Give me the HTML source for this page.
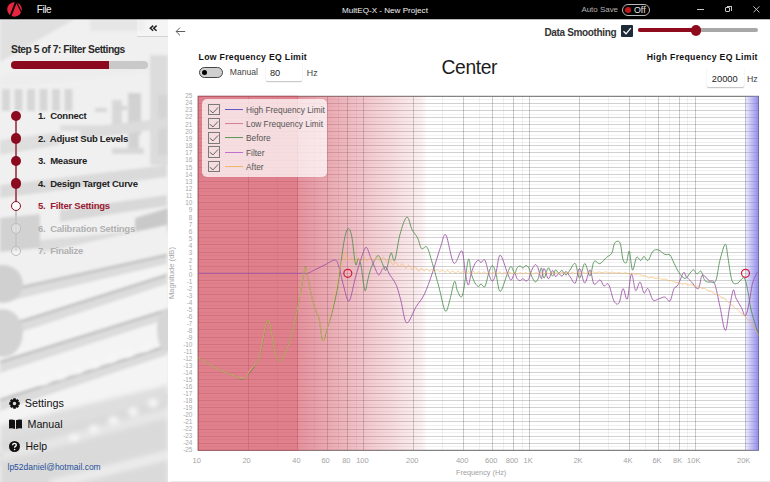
<!DOCTYPE html>
<html><head><meta charset="utf-8">
<style>
*{box-sizing:border-box;margin:0;padding:0}
html,body{width:770px;height:482px;overflow:hidden;background:#fff;font-family:"Liberation Sans",sans-serif;position:relative}
.a{position:absolute;white-space:nowrap;line-height:1}
#title{left:0;top:0;width:770px;height:19.3px;background:#000}
#side{left:0;top:19px;width:167.7px;height:463px;background:#e9e9e9;overflow:hidden}
.b{font-weight:bold}
.step{font-size:9.5px;font-weight:bold;letter-spacing:-0.25px;color:#222}
.dot{position:absolute;width:10.6px;height:10.6px;border-radius:50%;margin-left:0px}
.yl{position:absolute;left:170px;width:22.4px;text-align:right;font-size:6.4px;line-height:8px;color:#a8a8a8;margin-top:1px}
.xl{position:absolute;top:456.5px;width:40px;text-align:center;font-size:7.5px;line-height:8px;color:#a4a4a4}
</style></head><body>
<div class="a" id="title"></div>
<!-- logo -->
<svg class="a" style="left:6px;top:2px" width="17" height="16" viewBox="0 0 17 16">
<circle cx="8.5" cy="7.45" r="7.3" fill="#e8253f"/>
<path d="M10.2 -0.6 L4.3 14.6" stroke="#000" stroke-width="1.9"/>
<path d="M10.4 0 L15.6 10.6" stroke="#000" stroke-width="1.2"/>
</svg>
<div class="a" style="left:36.8px;top:5.4px;font-size:10px;letter-spacing:-0.45px;color:#f4f4f4">File</div>
<div class="a" style="left:342px;top:6.7px;font-size:8.1px;color:#f4f4f4">MultEQ-X - New Project</div>
<div class="a" style="left:581.4px;top:6.3px;font-size:7.95px;color:#b4b4b4">Auto Save</div>
<div class="a" style="left:621.8px;top:3.6px;width:28px;height:12.2px;border:1px solid #b8b8b8;border-radius:6.5px"></div>
<div class="a" style="left:625.2px;top:6.9px;width:6px;height:6px;border-radius:50%;background:#c8141e"></div>
<div class="a" style="left:634px;top:6px;font-size:8.8px;color:#e4e4e4">Off</div>
<div class="a" style="left:697px;top:9px;width:7px;height:1px;background:#c8c8c8"></div>
<div class="a" style="left:725px;top:7.2px;width:5px;height:5px;border:1px solid #c8c8c8;border-radius:1px"></div>
<div class="a" style="left:726.5px;top:5.7px;width:5px;height:5px;border-top:1px solid #c8c8c8;border-right:1px solid #c8c8c8"></div>
<svg class="a" style="left:752.8px;top:6.2px" width="7" height="7"><path d="M0.4 0.4L6.4 6.4M6.4 0.4L0.4 6.4" stroke="#d0d0d0" stroke-width="0.9"/></svg>

<!-- sidebar -->
<div class="a" id="side"><svg width="168" height="463" style="position:absolute;left:0;top:0"><defs><filter id="sb" x="-5%" y="-5%" width="110%" height="110%"><feGaussianBlur stdDeviation="1.7"/></filter><filter id="sb2" x="-10%" y="-10%" width="120%" height="120%"><feGaussianBlur stdDeviation="2.6"/></filter></defs><g filter="url(#sb)"><rect x="-10" y="-10" width="190" height="500" fill="#f0f0f0"/><polygon points="0,0 75,0 0,43" fill="#e0e0e0"/><rect x="90" y="0" width="55" height="12" fill="#e6e6e6"/><polygon points="0,56 167,39 167,51 0,69" fill="#ededed"/><rect x="150" y="36" width="18" height="110" fill="#dcdcdc"/><rect x="128" y="74" width="13" height="42" fill="#d0d0d0"/><rect x="112" y="81" width="10" height="35" fill="#d8d8d8"/><rect x="2.0" y="70" width="8" height="22" fill="#d6d6d6"/><rect x="14.5" y="70" width="8" height="22" fill="#d6d6d6"/><rect x="27.0" y="70" width="8" height="22" fill="#d6d6d6"/><rect x="39.5" y="70" width="8" height="22" fill="#d6d6d6"/><rect x="52.0" y="70" width="8" height="22" fill="#d6d6d6"/><rect x="64.5" y="70" width="8" height="22" fill="#d6d6d6"/><rect x="128" y="79" width="11" height="56" fill="#d2d2d2"/><rect x="158" y="76" width="10" height="60" fill="#d4d4d4"/><rect x="95" y="89" width="12" height="4" fill="#d6d6d6"/><rect x="115" y="87" width="12" height="4" fill="#d6d6d6"/><rect x="60" y="106" width="70" height="6" fill="#dedede"/><rect x="112" y="129" width="32" height="6" fill="#d8d8d8"/><rect x="122" y="151" width="42" height="5" fill="#dadada"/><polygon points="80,109 167,99 167,109 80,121" fill="#dcdcdc"/><polygon points="0,121 60,113 60,126 0,136" fill="#dedede"/><polygon points="0,166 167,146 167,158 0,179" fill="#dadada"/><polygon points="0,199 40,195 40,229 0,233" fill="#d2d2d2"/><polygon points="60,191 167,176 167,187 60,203" fill="#d8d8d8"/><polygon points="135,199 168,189 168,213 135,221" fill="#c9c9c9"/><polygon points="40,221 167,209 167,219 40,233" fill="#dcdcdc"/><polygon points="0,243 167,206 167,236 0,273" fill="#f0f0f0"/><polygon points="0,273 167,236 167,256 0,309" fill="#f4f4f4"/><polygon points="0,273 167,236 167,245 0,284" fill="#dcdcdc"/><line x1="0" y1="273" x2="167" y2="236" stroke="#bebebe" stroke-width="2.4"/><polygon points="0,309 167,256 167,291 0,343" fill="#f4f4f4"/><polygon points="0,309 167,256 167,265 0,320" fill="#dcdcdc"/><line x1="0" y1="309" x2="167" y2="256" stroke="#bebebe" stroke-width="2.4"/><polygon points="0,343 167,291 167,327 0,381" fill="#f4f4f4"/><polygon points="0,343 167,291 167,300 0,354" fill="#dcdcdc"/><line x1="0" y1="343" x2="167" y2="291" stroke="#bebebe" stroke-width="2.4"/><polygon points="0,381 167,327 167,376 0,436" fill="#f4f4f4"/><polygon points="0,381 167,327 167,336 0,392" fill="#dcdcdc"/><line x1="0" y1="381" x2="167" y2="327" stroke="#bebebe" stroke-width="2.4"/><polygon points="0,436 167,376 167,426 0,486" fill="#f4f4f4"/><polygon points="0,436 167,376 167,385 0,447" fill="#dcdcdc"/><line x1="0" y1="436" x2="167" y2="376" stroke="#bebebe" stroke-width="2.4"/><ellipse cx="3" cy="265" rx="20" ry="19" fill="#d0d0d0"/><ellipse cx="3" cy="314" rx="20" ry="24" fill="#d3d3d3"/><ellipse cx="167" cy="311" rx="10" ry="22" fill="#d6d6d6"/></g><g filter="url(#sb2)"><polygon points="0,421 168,381 168,481 0,481" fill="#dadada"/><polygon points="0,406 168,366 168,381 0,421" fill="#dedede"/><polygon points="0,433 168,389 168,399 0,443" fill="#e6e6e6"/><polygon points="50,461 168,431 168,441 50,471" fill="#ebebeb"/><ellipse cx="44.0" cy="362.0" rx="5" ry="4.2" fill="#f6f6f6"/><ellipse cx="60.8" cy="356.3" rx="5" ry="4.2" fill="#f6f6f6"/><ellipse cx="77.7" cy="350.7" rx="5" ry="4.2" fill="#f6f6f6"/><ellipse cx="94.5" cy="345.0" rx="5" ry="4.2" fill="#f6f6f6"/><ellipse cx="111.3" cy="339.3" rx="5" ry="4.2" fill="#f6f6f6"/><ellipse cx="128.2" cy="333.7" rx="5" ry="4.2" fill="#f6f6f6"/><ellipse cx="145.0" cy="328.0" rx="5" ry="4.2" fill="#f6f6f6"/><ellipse cx="74.0" cy="419.0" rx="5" ry="4.2" fill="#f6f6f6"/><ellipse cx="93.8" cy="410.2" rx="5" ry="4.2" fill="#f6f6f6"/><ellipse cx="113.5" cy="401.5" rx="5" ry="4.2" fill="#f6f6f6"/><ellipse cx="133.2" cy="392.8" rx="5" ry="4.2" fill="#f6f6f6"/><ellipse cx="153.0" cy="384.0" rx="5" ry="4.2" fill="#f6f6f6"/></g></svg></div>
</div>
<div class="a" style="left:137px;top:19px;width:30.7px;height:18px;border-bottom:1px solid #d4d4d4;background:rgba(255,255,255,0.35)"></div>
<svg class="a" style="left:148.8px;top:24.5px" width="9" height="7" viewBox="0 0 9 7"><path d="M4.2 0.6L1.3 3.2l2.9 2.6M7.6 0.6L4.7 3.2l2.9 2.6" stroke="#222" stroke-width="1.5" fill="none"/></svg>
<div class="a b" style="left:11px;top:45px;font-size:10.3px;letter-spacing:-0.47px;color:#2a2a2a">Step 5 of 7: Filter Settings</div>
<div class="a" style="left:11px;top:60.5px;width:137px;height:8px;border-radius:4px;background:#c9c9c9"></div>
<div class="a" style="left:11px;top:60.5px;width:98px;height:8px;border-radius:4px 0 0 4px;background:#8c0a1f"></div>

<!-- steps -->
<div class="a" style="left:15.3px;top:116px;width:1.6px;height:90px;background:#a85566"></div>
<div class="a" style="left:15.3px;top:206px;width:1.6px;height:45px;background:#c8c8c8"></div>
<div class="dot" style="left:10.5px;top:110.5px;background:#8c0a1f"></div>
<div class="dot" style="left:10.5px;top:133px;background:#8c0a1f"></div>
<div class="dot" style="left:10.5px;top:155.5px;background:#8c0a1f"></div>
<div class="dot" style="left:10.5px;top:178px;background:#8c0a1f"></div>
<div class="dot" style="left:10.5px;top:200.5px;background:#fff;border:1.5px solid #8c0a1f"></div>
<div class="dot" style="left:10.5px;top:223px;background:rgba(255,255,255,0.3);border:1.4px solid #bdbdbd"></div>
<div class="dot" style="left:10.5px;top:245.5px;background:rgba(255,255,255,0.3);border:1.4px solid #bdbdbd"></div>
<div class="a step" style="left:38px;top:111.0px">1.&nbsp; Connect</div>
<div class="a step" style="left:38px;top:133.5px">2.&nbsp; Adjust Sub Levels</div>
<div class="a step" style="left:38px;top:156.0px">3.&nbsp; Measure</div>
<div class="a step" style="left:38px;top:178.5px">4.&nbsp; Design Target Curve</div>
<div class="a step" style="left:38px;top:201.0px;color:#9a1a30">5.&nbsp; Filter Settings</div>
<div class="a step" style="left:38px;top:223.5px;color:#b0b0b0">6.&nbsp; Calibration Settings</div>
<div class="a step" style="left:38px;top:246.0px;color:#b0b0b0">7.&nbsp; Finalize</div>

<!-- bottom links -->
<svg class="a" style="left:8.8px;top:397.5px" width="11" height="11" viewBox="0 0 11 11">
<path fill="#111" fill-rule="evenodd" d="M10.76 4.27 L10.76 6.73 L9.09 7.02 L9.11 6.97 L10.09 8.35 L8.35 10.09 L6.97 9.11 L7.02 9.09 L6.73 10.76 L4.27 10.76 L3.98 9.09 L4.03 9.11 L2.65 10.09 L0.91 8.35 L1.89 6.97 L1.91 7.02 L0.24 6.73 L0.24 4.27 L1.91 3.98 L1.89 4.03 L0.91 2.65 L2.65 0.91 L4.03 1.89 L3.98 1.91 L4.27 0.24 L6.73 0.24 L7.02 1.91 L6.97 1.89 L8.35 0.91 L10.09 2.65 L9.11 4.03 L9.09 3.98Z M5.5 3.7 A1.8 1.8 0 1 0 5.5 7.3 A1.8 1.8 0 1 0 5.5 3.7Z"/>
</svg>
<div class="a" style="left:24.8px;top:398px;font-size:10.8px;color:#111">Settings</div>
<svg class="a" style="left:9px;top:419px" width="13" height="10" viewBox="0 0 13 10">
<path fill="#111" d="M0 0.8 Q3 0 6 1.2 V10 Q3 8.8 0 9.6Z M7 1.2 Q10 0 13 0.8 V9.6 Q10 8.8 7 10Z"/>
</svg>
<div class="a" style="left:27.5px;top:419.3px;font-size:10.7px;color:#111">Manual</div>
<svg class="a" style="left:9px;top:440.5px" width="11" height="11" viewBox="0 0 11 11">
<circle cx="5.5" cy="5.5" r="5.5" fill="#111"/>
<path d="M3.7 4.2 Q3.7 2.4 5.5 2.4 Q7.3 2.4 7.3 4 Q7.3 5 6.1 5.6 Q5.6 5.9 5.6 6.8" stroke="#fff" stroke-width="1.4" fill="none"/>
<circle cx="5.6" cy="8.5" r="0.8" fill="#fff"/>
</svg>
<div class="a" style="left:25.5px;top:441px;font-size:10.5px;color:#111">Help</div>
<div class="a" style="left:7.5px;top:463px;font-size:8.5px;color:#26509a">lp52daniel@hotmail.com</div>

<!-- main header -->

<svg class="a" style="left:175px;top:26px" width="12" height="10" viewBox="0 0 12 10">
<path d="M10.2 5.5H1.2M5 1.6L1.1 5.5 5 9.4" stroke="#555" stroke-width="0.95" fill="none"/>
</svg>
<div class="a b" style="left:544.5px;top:27.6px;font-size:10px;letter-spacing:-0.35px;color:#333">Data Smoothing</div>
<div class="a" style="left:621px;top:25px;width:12px;height:12px;background:#1f2a38;border-radius:1px"></div>
<svg class="a" style="left:621px;top:25px" width="12" height="12"><path d="M2.5 6.3L5 8.8 9.8 3.2" stroke="#fff" stroke-width="1.3" fill="none"/></svg>
<div class="a" style="left:638px;top:28px;width:120px;height:4px;border-radius:2px;background:#a8a8a8"></div>
<div class="a" style="left:638px;top:28px;width:58px;height:4px;border-radius:2px 0 0 2px;background:#8e0a1d"></div>
<div class="a" style="left:690.5px;top:25px;width:10.5px;height:10.5px;border-radius:50%;background:#8e0a1d"></div>

<div class="a b" style="left:198.6px;top:52.9px;font-size:8.7px;letter-spacing:0.3px;color:#111">Low Frequency EQ Limit</div>
<div class="a" style="left:198.5px;top:66.5px;width:24.5px;height:11px;border-radius:6px;background:#cfcfcf;border:1px solid #444"></div>
<div class="a" style="left:202px;top:69.5px;width:5px;height:5px;border-radius:50%;background:#000"></div>
<div class="a" style="left:229.8px;top:68.3px;font-size:8.6px;color:#444">Manual</div>
<div class="a" style="left:265.5px;top:62.7px;width:36.3px;height:18.2px;background:#fff;box-shadow:0 1px 1.2px rgba(0,0,0,0.25),0 0 0.5px rgba(0,0,0,0.1);border-radius:1.5px"></div>
<div class="a" style="left:270px;top:68.6px;font-size:9.2px;color:#222">80</div>
<div class="a" style="left:306.8px;top:68.9px;font-size:8.8px;color:#444">Hz</div>

<div class="a" style="left:441.6px;top:57.8px;font-size:19.3px;letter-spacing:-0.4px;color:#1c1c1c">Center</div>

<div class="a b" style="left:646.7px;top:52.9px;font-size:8.7px;letter-spacing:0.32px;color:#111">High Frequency EQ Limit</div>
<div class="a" style="left:707.2px;top:68.4px;width:36.7px;height:18.6px;background:#fff;box-shadow:0 1px 1.2px rgba(0,0,0,0.25),0 0 0.5px rgba(0,0,0,0.1);border-radius:1.5px"></div>
<div class="a" style="left:711.8px;top:74.5px;font-size:9.3px;color:#222">20000</div>
<div class="a" style="left:747px;top:74.9px;font-size:8.8px;color:#444">Hz</div>

<!-- chart -->
<svg class="a" style="left:0;top:0" width="770" height="482" viewBox="0 0 770 482">
<defs>
<linearGradient id="pg" x1="0" x2="1" y1="0" y2="0">
<stop offset="0" stop-color="#d14456" stop-opacity="0.58"/>
<stop offset="0.47" stop-color="#d14456" stop-opacity="0.33"/>
<stop offset="0.96" stop-color="#d14456" stop-opacity="0.08"/>
<stop offset="1" stop-color="#d14456" stop-opacity="0.02"/>
</linearGradient>
<linearGradient id="bg" x1="0" x2="1" y1="0" y2="0">
<stop offset="0" stop-color="#8078ea" stop-opacity="0.12"/>
<stop offset="1" stop-color="#8078ea" stop-opacity="0.85"/>
</linearGradient>
</defs>
<rect x="198.2" y="96.3" width="560.3" height="354.0" fill="#fff"/>
<line x1="198.2" x2="758.5" y1="99.50" y2="99.50" stroke="#000" stroke-opacity="0.055" stroke-width="1"/>
<line x1="198.2" x2="758.5" y1="103.50" y2="103.50" stroke="#000" stroke-opacity="0.18" stroke-width="1"/>
<line x1="198.2" x2="758.5" y1="106.50" y2="106.50" stroke="#000" stroke-opacity="0.055" stroke-width="1"/>
<line x1="198.2" x2="758.5" y1="110.50" y2="110.50" stroke="#000" stroke-opacity="0.18" stroke-width="1"/>
<line x1="198.2" x2="758.5" y1="114.50" y2="114.50" stroke="#000" stroke-opacity="0.055" stroke-width="1"/>
<line x1="198.2" x2="758.5" y1="117.50" y2="117.50" stroke="#000" stroke-opacity="0.18" stroke-width="1"/>
<line x1="198.2" x2="758.5" y1="121.50" y2="121.50" stroke="#000" stroke-opacity="0.055" stroke-width="1"/>
<line x1="198.2" x2="758.5" y1="124.50" y2="124.50" stroke="#000" stroke-opacity="0.18" stroke-width="1"/>
<line x1="198.2" x2="758.5" y1="128.50" y2="128.50" stroke="#000" stroke-opacity="0.055" stroke-width="1"/>
<line x1="198.2" x2="758.5" y1="131.50" y2="131.50" stroke="#000" stroke-opacity="0.18" stroke-width="1"/>
<line x1="198.2" x2="758.5" y1="135.50" y2="135.50" stroke="#000" stroke-opacity="0.055" stroke-width="1"/>
<line x1="198.2" x2="758.5" y1="138.50" y2="138.50" stroke="#000" stroke-opacity="0.18" stroke-width="1"/>
<line x1="198.2" x2="758.5" y1="142.50" y2="142.50" stroke="#000" stroke-opacity="0.055" stroke-width="1"/>
<line x1="198.2" x2="758.5" y1="145.50" y2="145.50" stroke="#000" stroke-opacity="0.18" stroke-width="1"/>
<line x1="198.2" x2="758.5" y1="149.50" y2="149.50" stroke="#000" stroke-opacity="0.055" stroke-width="1"/>
<line x1="198.2" x2="758.5" y1="152.50" y2="152.50" stroke="#000" stroke-opacity="0.18" stroke-width="1"/>
<line x1="198.2" x2="758.5" y1="156.50" y2="156.50" stroke="#000" stroke-opacity="0.055" stroke-width="1"/>
<line x1="198.2" x2="758.5" y1="160.50" y2="160.50" stroke="#000" stroke-opacity="0.18" stroke-width="1"/>
<line x1="198.2" x2="758.5" y1="163.50" y2="163.50" stroke="#000" stroke-opacity="0.055" stroke-width="1"/>
<line x1="198.2" x2="758.5" y1="167.50" y2="167.50" stroke="#000" stroke-opacity="0.18" stroke-width="1"/>
<line x1="198.2" x2="758.5" y1="170.50" y2="170.50" stroke="#000" stroke-opacity="0.055" stroke-width="1"/>
<line x1="198.2" x2="758.5" y1="174.50" y2="174.50" stroke="#000" stroke-opacity="0.18" stroke-width="1"/>
<line x1="198.2" x2="758.5" y1="177.50" y2="177.50" stroke="#000" stroke-opacity="0.055" stroke-width="1"/>
<line x1="198.2" x2="758.5" y1="181.50" y2="181.50" stroke="#000" stroke-opacity="0.18" stroke-width="1"/>
<line x1="198.2" x2="758.5" y1="184.50" y2="184.50" stroke="#000" stroke-opacity="0.055" stroke-width="1"/>
<line x1="198.2" x2="758.5" y1="188.50" y2="188.50" stroke="#000" stroke-opacity="0.18" stroke-width="1"/>
<line x1="198.2" x2="758.5" y1="191.50" y2="191.50" stroke="#000" stroke-opacity="0.055" stroke-width="1"/>
<line x1="198.2" x2="758.5" y1="195.50" y2="195.50" stroke="#000" stroke-opacity="0.18" stroke-width="1"/>
<line x1="198.2" x2="758.5" y1="198.50" y2="198.50" stroke="#000" stroke-opacity="0.055" stroke-width="1"/>
<line x1="198.2" x2="758.5" y1="202.50" y2="202.50" stroke="#000" stroke-opacity="0.18" stroke-width="1"/>
<line x1="198.2" x2="758.5" y1="206.50" y2="206.50" stroke="#000" stroke-opacity="0.055" stroke-width="1"/>
<line x1="198.2" x2="758.5" y1="209.50" y2="209.50" stroke="#000" stroke-opacity="0.18" stroke-width="1"/>
<line x1="198.2" x2="758.5" y1="213.50" y2="213.50" stroke="#000" stroke-opacity="0.055" stroke-width="1"/>
<line x1="198.2" x2="758.5" y1="216.50" y2="216.50" stroke="#000" stroke-opacity="0.18" stroke-width="1"/>
<line x1="198.2" x2="758.5" y1="220.50" y2="220.50" stroke="#000" stroke-opacity="0.055" stroke-width="1"/>
<line x1="198.2" x2="758.5" y1="223.50" y2="223.50" stroke="#000" stroke-opacity="0.18" stroke-width="1"/>
<line x1="198.2" x2="758.5" y1="227.50" y2="227.50" stroke="#000" stroke-opacity="0.055" stroke-width="1"/>
<line x1="198.2" x2="758.5" y1="230.50" y2="230.50" stroke="#000" stroke-opacity="0.18" stroke-width="1"/>
<line x1="198.2" x2="758.5" y1="234.50" y2="234.50" stroke="#000" stroke-opacity="0.055" stroke-width="1"/>
<line x1="198.2" x2="758.5" y1="237.50" y2="237.50" stroke="#000" stroke-opacity="0.18" stroke-width="1"/>
<line x1="198.2" x2="758.5" y1="241.50" y2="241.50" stroke="#000" stroke-opacity="0.055" stroke-width="1"/>
<line x1="198.2" x2="758.5" y1="244.50" y2="244.50" stroke="#000" stroke-opacity="0.18" stroke-width="1"/>
<line x1="198.2" x2="758.5" y1="248.50" y2="248.50" stroke="#000" stroke-opacity="0.055" stroke-width="1"/>
<line x1="198.2" x2="758.5" y1="252.50" y2="252.50" stroke="#000" stroke-opacity="0.18" stroke-width="1"/>
<line x1="198.2" x2="758.5" y1="255.50" y2="255.50" stroke="#000" stroke-opacity="0.055" stroke-width="1"/>
<line x1="198.2" x2="758.5" y1="259.50" y2="259.50" stroke="#000" stroke-opacity="0.18" stroke-width="1"/>
<line x1="198.2" x2="758.5" y1="262.50" y2="262.50" stroke="#000" stroke-opacity="0.055" stroke-width="1"/>
<line x1="198.2" x2="758.5" y1="266.50" y2="266.50" stroke="#000" stroke-opacity="0.18" stroke-width="1"/>
<line x1="198.2" x2="758.5" y1="269.50" y2="269.50" stroke="#000" stroke-opacity="0.055" stroke-width="1"/>
<line x1="198.2" x2="758.5" y1="273.50" y2="273.50" stroke="#000" stroke-opacity="0.18" stroke-width="1"/>
<line x1="198.2" x2="758.5" y1="276.50" y2="276.50" stroke="#000" stroke-opacity="0.055" stroke-width="1"/>
<line x1="198.2" x2="758.5" y1="280.50" y2="280.50" stroke="#000" stroke-opacity="0.18" stroke-width="1"/>
<line x1="198.2" x2="758.5" y1="283.50" y2="283.50" stroke="#000" stroke-opacity="0.055" stroke-width="1"/>
<line x1="198.2" x2="758.5" y1="287.50" y2="287.50" stroke="#000" stroke-opacity="0.18" stroke-width="1"/>
<line x1="198.2" x2="758.5" y1="291.50" y2="291.50" stroke="#000" stroke-opacity="0.055" stroke-width="1"/>
<line x1="198.2" x2="758.5" y1="294.50" y2="294.50" stroke="#000" stroke-opacity="0.18" stroke-width="1"/>
<line x1="198.2" x2="758.5" y1="298.50" y2="298.50" stroke="#000" stroke-opacity="0.055" stroke-width="1"/>
<line x1="198.2" x2="758.5" y1="301.50" y2="301.50" stroke="#000" stroke-opacity="0.18" stroke-width="1"/>
<line x1="198.2" x2="758.5" y1="305.50" y2="305.50" stroke="#000" stroke-opacity="0.055" stroke-width="1"/>
<line x1="198.2" x2="758.5" y1="308.50" y2="308.50" stroke="#000" stroke-opacity="0.18" stroke-width="1"/>
<line x1="198.2" x2="758.5" y1="312.50" y2="312.50" stroke="#000" stroke-opacity="0.055" stroke-width="1"/>
<line x1="198.2" x2="758.5" y1="315.50" y2="315.50" stroke="#000" stroke-opacity="0.18" stroke-width="1"/>
<line x1="198.2" x2="758.5" y1="319.50" y2="319.50" stroke="#000" stroke-opacity="0.055" stroke-width="1"/>
<line x1="198.2" x2="758.5" y1="322.50" y2="322.50" stroke="#000" stroke-opacity="0.18" stroke-width="1"/>
<line x1="198.2" x2="758.5" y1="326.50" y2="326.50" stroke="#000" stroke-opacity="0.055" stroke-width="1"/>
<line x1="198.2" x2="758.5" y1="329.50" y2="329.50" stroke="#000" stroke-opacity="0.18" stroke-width="1"/>
<line x1="198.2" x2="758.5" y1="333.50" y2="333.50" stroke="#000" stroke-opacity="0.055" stroke-width="1"/>
<line x1="198.2" x2="758.5" y1="337.50" y2="337.50" stroke="#000" stroke-opacity="0.18" stroke-width="1"/>
<line x1="198.2" x2="758.5" y1="340.50" y2="340.50" stroke="#000" stroke-opacity="0.055" stroke-width="1"/>
<line x1="198.2" x2="758.5" y1="344.50" y2="344.50" stroke="#000" stroke-opacity="0.18" stroke-width="1"/>
<line x1="198.2" x2="758.5" y1="347.50" y2="347.50" stroke="#000" stroke-opacity="0.055" stroke-width="1"/>
<line x1="198.2" x2="758.5" y1="351.50" y2="351.50" stroke="#000" stroke-opacity="0.18" stroke-width="1"/>
<line x1="198.2" x2="758.5" y1="354.50" y2="354.50" stroke="#000" stroke-opacity="0.055" stroke-width="1"/>
<line x1="198.2" x2="758.5" y1="358.50" y2="358.50" stroke="#000" stroke-opacity="0.18" stroke-width="1"/>
<line x1="198.2" x2="758.5" y1="361.50" y2="361.50" stroke="#000" stroke-opacity="0.055" stroke-width="1"/>
<line x1="198.2" x2="758.5" y1="365.50" y2="365.50" stroke="#000" stroke-opacity="0.18" stroke-width="1"/>
<line x1="198.2" x2="758.5" y1="368.50" y2="368.50" stroke="#000" stroke-opacity="0.055" stroke-width="1"/>
<line x1="198.2" x2="758.5" y1="372.50" y2="372.50" stroke="#000" stroke-opacity="0.18" stroke-width="1"/>
<line x1="198.2" x2="758.5" y1="375.50" y2="375.50" stroke="#000" stroke-opacity="0.055" stroke-width="1"/>
<line x1="198.2" x2="758.5" y1="379.50" y2="379.50" stroke="#000" stroke-opacity="0.18" stroke-width="1"/>
<line x1="198.2" x2="758.5" y1="383.50" y2="383.50" stroke="#000" stroke-opacity="0.055" stroke-width="1"/>
<line x1="198.2" x2="758.5" y1="386.50" y2="386.50" stroke="#000" stroke-opacity="0.18" stroke-width="1"/>
<line x1="198.2" x2="758.5" y1="390.50" y2="390.50" stroke="#000" stroke-opacity="0.055" stroke-width="1"/>
<line x1="198.2" x2="758.5" y1="393.50" y2="393.50" stroke="#000" stroke-opacity="0.18" stroke-width="1"/>
<line x1="198.2" x2="758.5" y1="397.50" y2="397.50" stroke="#000" stroke-opacity="0.055" stroke-width="1"/>
<line x1="198.2" x2="758.5" y1="400.50" y2="400.50" stroke="#000" stroke-opacity="0.18" stroke-width="1"/>
<line x1="198.2" x2="758.5" y1="404.50" y2="404.50" stroke="#000" stroke-opacity="0.055" stroke-width="1"/>
<line x1="198.2" x2="758.5" y1="407.50" y2="407.50" stroke="#000" stroke-opacity="0.18" stroke-width="1"/>
<line x1="198.2" x2="758.5" y1="411.50" y2="411.50" stroke="#000" stroke-opacity="0.055" stroke-width="1"/>
<line x1="198.2" x2="758.5" y1="414.50" y2="414.50" stroke="#000" stroke-opacity="0.18" stroke-width="1"/>
<line x1="198.2" x2="758.5" y1="418.50" y2="418.50" stroke="#000" stroke-opacity="0.055" stroke-width="1"/>
<line x1="198.2" x2="758.5" y1="421.50" y2="421.50" stroke="#000" stroke-opacity="0.18" stroke-width="1"/>
<line x1="198.2" x2="758.5" y1="425.50" y2="425.50" stroke="#000" stroke-opacity="0.055" stroke-width="1"/>
<line x1="198.2" x2="758.5" y1="429.50" y2="429.50" stroke="#000" stroke-opacity="0.18" stroke-width="1"/>
<line x1="198.2" x2="758.5" y1="432.50" y2="432.50" stroke="#000" stroke-opacity="0.055" stroke-width="1"/>
<line x1="198.2" x2="758.5" y1="436.50" y2="436.50" stroke="#000" stroke-opacity="0.18" stroke-width="1"/>
<line x1="198.2" x2="758.5" y1="439.50" y2="439.50" stroke="#000" stroke-opacity="0.055" stroke-width="1"/>
<line x1="198.2" x2="758.5" y1="443.50" y2="443.50" stroke="#000" stroke-opacity="0.18" stroke-width="1"/>
<line x1="198.2" x2="758.5" y1="446.50" y2="446.50" stroke="#000" stroke-opacity="0.055" stroke-width="1"/>
<line x1="248.50" x2="248.50" y1="96.3" y2="450.3" stroke="#000" stroke-opacity="0.2" stroke-width="1"/>
<line x1="277.50" x2="277.50" y1="96.3" y2="450.3" stroke="#000" stroke-opacity="0.055" stroke-width="1"/>
<line x1="297.50" x2="297.50" y1="96.3" y2="450.3" stroke="#000" stroke-opacity="0.2" stroke-width="1"/>
<line x1="314.50" x2="314.50" y1="96.3" y2="450.3" stroke="#000" stroke-opacity="0.055" stroke-width="1"/>
<line x1="327.50" x2="327.50" y1="96.3" y2="450.3" stroke="#000" stroke-opacity="0.2" stroke-width="1"/>
<line x1="338.50" x2="338.50" y1="96.3" y2="450.3" stroke="#000" stroke-opacity="0.055" stroke-width="1"/>
<line x1="347.50" x2="347.50" y1="96.3" y2="450.3" stroke="#000" stroke-opacity="0.2" stroke-width="1"/>
<line x1="356.50" x2="356.50" y1="96.3" y2="450.3" stroke="#000" stroke-opacity="0.055" stroke-width="1"/>
<line x1="363.50" x2="363.50" y1="96.3" y2="450.3" stroke="#000" stroke-opacity="0.2" stroke-width="1"/>
<line x1="413.50" x2="413.50" y1="96.3" y2="450.3" stroke="#000" stroke-opacity="0.2" stroke-width="1"/>
<line x1="442.50" x2="442.50" y1="96.3" y2="450.3" stroke="#000" stroke-opacity="0.055" stroke-width="1"/>
<line x1="463.50" x2="463.50" y1="96.3" y2="450.3" stroke="#000" stroke-opacity="0.2" stroke-width="1"/>
<line x1="479.50" x2="479.50" y1="96.3" y2="450.3" stroke="#000" stroke-opacity="0.055" stroke-width="1"/>
<line x1="492.50" x2="492.50" y1="96.3" y2="450.3" stroke="#000" stroke-opacity="0.2" stroke-width="1"/>
<line x1="503.50" x2="503.50" y1="96.3" y2="450.3" stroke="#000" stroke-opacity="0.055" stroke-width="1"/>
<line x1="513.50" x2="513.50" y1="96.3" y2="450.3" stroke="#000" stroke-opacity="0.2" stroke-width="1"/>
<line x1="522.50" x2="522.50" y1="96.3" y2="450.3" stroke="#000" stroke-opacity="0.055" stroke-width="1"/>
<line x1="529.50" x2="529.50" y1="96.3" y2="450.3" stroke="#000" stroke-opacity="0.2" stroke-width="1"/>
<line x1="579.50" x2="579.50" y1="96.3" y2="450.3" stroke="#000" stroke-opacity="0.2" stroke-width="1"/>
<line x1="608.50" x2="608.50" y1="96.3" y2="450.3" stroke="#000" stroke-opacity="0.055" stroke-width="1"/>
<line x1="629.50" x2="629.50" y1="96.3" y2="450.3" stroke="#000" stroke-opacity="0.2" stroke-width="1"/>
<line x1="645.50" x2="645.50" y1="96.3" y2="450.3" stroke="#000" stroke-opacity="0.055" stroke-width="1"/>
<line x1="658.50" x2="658.50" y1="96.3" y2="450.3" stroke="#000" stroke-opacity="0.2" stroke-width="1"/>
<line x1="669.50" x2="669.50" y1="96.3" y2="450.3" stroke="#000" stroke-opacity="0.055" stroke-width="1"/>
<line x1="679.50" x2="679.50" y1="96.3" y2="450.3" stroke="#000" stroke-opacity="0.2" stroke-width="1"/>
<line x1="687.50" x2="687.50" y1="96.3" y2="450.3" stroke="#000" stroke-opacity="0.055" stroke-width="1"/>
<line x1="695.50" x2="695.50" y1="96.3" y2="450.3" stroke="#000" stroke-opacity="0.2" stroke-width="1"/>
<line x1="745.50" x2="745.50" y1="96.3" y2="450.3" stroke="#000" stroke-opacity="0.2" stroke-width="1"/>
<rect x="198.2" y="96.3" width="560.3" height="354.0" fill="none" stroke="#666" stroke-width="1"/>
<rect x="197.7" y="95.8" width="100.26134056304335" height="355.0" fill="#d14456" fill-opacity="0.6"/>
<rect x="198.7" y="96.8" width="99.26134056304335" height="353.0" fill="#d14456" fill-opacity="0.2"/>
<rect x="297.96134056304334" y="96.3" width="128.03865943695666" height="354.0" fill="url(#pg)"/>
<rect x="745.1806702815215" y="96.3" width="13.319329718478457" height="354.0" fill="url(#bg)"/>
<clipPath id="cp"><rect x="198.2" y="96.3" width="560.3" height="354"/></clipPath>
<g clip-path="url(#cp)" fill="none" stroke-width="0.85" stroke-linejoin="round">
<path d="M198.0 357.6C200.9 359.3 209.1 364.6 215.4 367.7C221.7 370.8 231.0 374.8 235.8 376.5C240.7 378.2 240.6 381.0 244.5 377.9C248.4 374.8 255.1 367.3 259.0 357.6C262.9 347.9 265.1 320.8 267.8 319.8C270.5 318.8 272.8 344.9 275.0 351.7C277.2 358.5 278.1 362.9 280.8 360.5C283.5 358.1 287.9 347.7 291.0 337.2C294.1 326.7 297.3 309.2 299.6 297.7C301.9 286.2 303.7 272.5 304.9 268.3C306.1 264.1 305.5 267.8 306.7 272.7C307.9 277.6 310.5 291.4 312.0 297.7C313.5 303.9 314.4 306.6 315.6 310.2C316.8 313.8 318.0 314.0 319.2 319.1C320.4 324.2 321.4 339.1 322.8 340.6C324.2 342.1 325.8 332.5 327.3 328.0C328.8 323.5 330.1 320.0 331.7 313.8C333.3 307.6 335.5 298.6 337.0 290.6C338.5 282.6 339.3 274.4 340.5 266.0C341.7 257.6 343.1 246.1 344.3 239.9C345.6 233.7 346.8 229.3 348.0 228.7C349.2 228.1 350.4 230.2 351.7 236.1C352.9 242.0 354.4 260.4 355.5 264.2C356.6 267.9 357.4 258.3 358.3 258.6C359.2 258.9 360.0 260.7 361.1 266.0C362.2 271.3 363.7 287.8 364.8 290.3C365.9 292.8 366.7 284.4 367.6 281.0C368.5 277.6 369.1 273.4 370.4 269.8C371.6 266.2 373.7 261.8 375.1 259.5C376.5 257.2 377.4 254.7 378.8 255.8C380.2 256.9 382.2 263.7 383.5 266.0C384.8 268.3 385.1 272.0 386.3 269.8C387.6 267.6 389.6 254.6 391.0 253.0C392.4 251.4 393.2 263.5 394.7 260.4C396.2 257.3 398.0 241.5 400.0 234.3C402.0 227.1 404.8 217.9 406.8 217.1C408.8 216.3 410.3 226.2 412.1 229.7C413.9 233.1 415.9 234.7 417.5 237.8C419.1 241.0 420.0 247.0 421.6 248.6C423.2 250.2 425.2 244.7 427.0 247.2C428.8 249.7 430.4 256.6 432.4 263.4C434.4 270.1 437.0 279.8 439.1 287.7C441.2 295.6 443.5 309.0 445.3 311.0C447.1 313.0 448.4 304.7 449.9 299.8C451.4 294.9 453.2 282.9 454.5 281.4C455.8 279.9 456.1 288.5 457.4 290.8C458.7 293.1 460.7 300.4 462.5 295.2C464.3 290.0 466.9 263.2 468.3 259.6C469.8 256.0 470.1 269.4 471.2 273.3C472.3 277.2 473.8 280.8 475.0 283.0C476.2 285.2 477.5 286.2 478.5 286.4C479.5 286.6 480.0 283.9 481.0 284.0C482.0 284.1 483.5 287.7 484.5 287.0C485.5 286.3 486.3 282.3 487.0 280.0C487.7 277.7 487.7 275.7 488.6 273.3C489.5 270.9 491.1 265.4 492.3 265.4C493.5 265.4 494.6 268.9 495.9 273.3C497.2 277.7 498.3 291.5 500.2 291.5C502.1 291.5 505.7 277.5 507.5 273.3C509.3 269.1 509.8 266.5 511.0 266.5C512.2 266.5 513.7 273.1 514.7 273.3C515.7 273.6 516.1 269.2 517.0 268.0C517.9 266.8 519.0 266.0 520.0 266.0C521.0 266.0 522.0 268.1 523.0 268.0C524.0 267.9 525.0 265.5 526.0 265.5C527.0 265.5 528.2 266.7 529.0 268.0C529.8 269.3 529.8 271.5 530.5 273.3C531.2 275.1 532.2 277.6 533.0 279.0C533.8 280.4 534.7 282.0 535.5 282.0C536.3 282.0 537.3 280.4 538.0 279.0C538.7 277.6 538.9 275.1 539.5 273.3C540.1 271.5 540.8 267.2 541.5 268.0C542.2 268.8 542.9 278.2 544.0 278.2C545.1 278.2 546.9 268.2 548.3 267.8C549.7 267.4 551.3 275.6 552.5 276.0C553.7 276.4 554.5 270.5 555.5 270.0C556.5 269.5 557.6 272.9 558.7 273.0C559.8 273.1 560.8 270.2 562.0 270.5C563.2 270.8 564.7 275.1 566.0 275.0C567.3 274.9 568.5 271.9 570.0 270.0C571.5 268.1 573.7 262.2 575.3 263.6C576.9 265.0 577.9 278.2 579.5 278.2C581.1 278.2 583.0 264.0 584.7 263.6C586.5 263.2 588.5 276.3 590.0 276.0C591.5 275.7 592.3 263.7 594.0 261.6C595.7 259.5 597.9 264.3 600.0 263.6C602.1 262.9 604.5 259.1 606.5 257.4C608.5 255.7 610.3 255.6 611.7 253.2C613.1 250.8 613.4 244.6 614.8 242.9C616.2 241.2 618.6 240.1 620.0 242.9C621.4 245.7 621.9 256.2 623.0 259.5C624.1 262.8 625.5 263.9 626.5 262.5C627.5 261.1 628.3 249.9 629.3 251.2C630.3 252.4 631.3 269.0 632.5 270.0C633.7 271.0 635.2 259.0 636.6 257.4C638.0 255.8 639.6 260.7 640.8 260.5C642.0 260.3 642.8 256.4 644.0 256.4C645.2 256.4 646.5 261.4 648.0 260.5C649.5 259.6 651.2 252.9 653.0 251.2C654.8 249.4 656.5 249.5 658.5 250.0C660.5 250.5 662.8 253.5 664.7 254.3C666.6 255.1 668.5 253.5 670.0 255.0C671.5 256.5 672.6 260.4 674.0 263.1C675.4 265.8 676.8 268.9 678.1 271.2C679.5 273.4 680.8 275.5 682.1 276.6C683.5 277.7 684.4 279.1 686.2 278.0C688.0 276.9 691.1 270.6 692.9 269.9C694.7 269.2 695.6 273.7 697.0 273.9C698.4 274.1 699.7 270.1 701.0 271.2C702.3 272.3 703.4 278.8 705.0 280.6C706.6 282.4 708.6 282.0 710.4 282.0C712.2 282.0 714.2 284.2 715.8 280.6C717.4 277.0 718.3 266.4 719.9 260.4C721.5 254.3 723.9 244.8 725.3 244.3C726.6 243.9 726.9 251.6 728.0 257.7C729.1 263.8 730.4 276.3 732.0 280.6C733.6 284.9 735.4 283.7 737.4 283.3C739.4 282.9 742.3 276.4 744.1 278.0C745.9 279.6 747.1 287.6 748.2 292.8C749.3 298.0 749.5 303.2 750.9 309.0C752.2 314.8 754.9 323.3 756.3 327.8C757.6 332.3 758.5 334.6 759.0 336.0" stroke="#4f8f52"/>
<path d="M198.0 273.3C206.7 273.3 233.0 273.3 250.0 273.3C267.0 273.3 290.4 273.3 300.0 273.3C309.6 273.3 304.8 274.0 307.5 273.3C310.2 272.6 313.1 270.6 316.0 269.2C318.9 267.8 321.9 266.3 325.0 264.8C328.1 263.3 332.5 259.8 334.8 260.0C337.1 260.2 337.3 261.9 338.7 266.0C340.1 270.1 341.6 278.9 343.3 284.7C345.0 290.5 347.0 302.2 349.0 301.0C351.0 299.8 353.5 284.3 355.5 277.2C357.5 270.1 359.4 263.6 361.1 258.6C362.9 253.6 364.4 247.6 366.0 247.3C367.6 247.0 369.0 253.6 370.4 256.7C371.8 259.8 372.8 263.0 374.2 266.0C375.6 269.0 377.2 274.4 378.6 274.9C380.0 275.4 381.2 270.5 382.4 269.2C383.6 267.9 384.7 266.1 385.8 266.9C386.9 267.7 387.9 271.5 389.2 273.8C390.5 276.1 392.5 278.3 393.8 280.6C395.1 282.9 396.0 284.1 397.2 287.5C398.4 290.9 399.4 295.1 401.0 301.0C402.6 306.9 404.2 321.9 406.7 322.8C409.2 323.7 413.3 311.3 416.2 306.6C419.1 301.9 421.6 300.0 424.3 294.4C427.0 288.8 429.7 280.8 432.4 272.9C435.1 265.0 438.2 253.5 440.5 247.2C442.8 240.9 443.7 232.3 445.9 235.0C448.1 237.7 451.1 260.6 453.8 263.2C456.5 265.8 459.9 249.2 461.8 250.9C463.7 252.6 464.3 267.7 465.4 273.4C466.5 279.1 467.3 285.0 468.3 285.0C469.3 285.0 470.1 276.9 471.2 273.3C472.3 269.7 473.8 265.8 475.0 263.6C476.2 261.4 477.5 260.4 478.5 260.2C479.5 260.0 480.0 262.7 481.0 262.6C482.0 262.5 483.5 258.9 484.5 259.6C485.5 260.3 486.3 264.3 487.0 266.6C487.7 268.9 487.7 270.9 488.6 273.3C489.5 275.7 491.1 281.2 492.3 281.2C493.5 281.2 494.6 277.7 495.9 273.3C497.2 268.9 498.3 255.1 500.2 255.1C502.1 255.1 505.7 269.1 507.5 273.3C509.3 277.5 509.8 280.1 511.0 280.1C512.2 280.1 513.7 273.6 514.7 273.3C515.7 273.1 516.1 277.4 517.0 278.6C517.9 279.8 519.0 280.6 520.0 280.6C521.0 280.6 522.0 278.5 523.0 278.6C524.0 278.7 525.0 281.1 526.0 281.1C527.0 281.1 528.2 279.9 529.0 278.6C529.8 277.3 529.8 275.1 530.5 273.3C531.2 271.5 532.2 269.1 533.0 267.6C533.8 266.2 534.7 264.6 535.5 264.6C536.3 264.6 537.3 266.2 538.0 267.6C538.7 269.1 538.9 271.5 539.5 273.3C540.1 275.1 540.8 279.4 541.5 278.6C542.2 277.8 542.9 268.4 544.0 268.4C545.1 268.4 546.9 278.4 548.3 278.8C549.7 279.2 551.3 271.0 552.5 270.6C553.7 270.2 554.5 276.1 555.5 276.6C556.5 277.1 557.6 273.7 558.7 273.6C559.8 273.5 560.8 276.4 562.0 276.1C563.2 275.8 564.7 271.5 566.0 271.6C567.3 271.7 568.5 274.7 570.0 276.6C571.5 278.5 573.7 284.4 575.3 283.0C576.9 281.6 577.9 268.4 579.5 268.4C581.1 268.4 583.0 282.7 584.7 283.0C586.5 283.3 588.5 269.8 590.0 270.0C591.5 270.2 592.3 282.3 594.0 284.0C595.7 285.7 598.3 279.7 600.0 280.0C601.7 280.3 602.6 285.3 604.0 286.0C605.4 286.7 606.9 281.9 608.6 284.4C610.3 286.9 612.3 297.9 614.0 301.0C615.7 304.1 617.5 305.1 619.0 303.0C620.5 300.9 621.6 289.3 623.0 288.6C624.4 287.9 625.9 301.4 627.3 299.0C628.7 296.6 630.0 275.4 631.4 274.0C632.8 272.6 634.2 289.3 635.6 290.6C637.0 291.9 638.6 281.6 640.0 282.0C641.4 282.4 642.7 291.9 644.0 293.0C645.3 294.1 646.5 287.4 648.0 288.6C649.5 289.8 651.2 298.3 653.0 300.0C654.8 301.7 656.5 299.5 658.5 299.0C660.5 298.5 662.8 296.7 664.7 297.0C666.6 297.3 668.5 302.3 670.0 300.9C671.5 299.5 672.6 291.4 674.0 288.7C675.4 286.0 676.5 287.4 678.1 284.7C679.7 282.0 682.1 274.0 683.5 272.6C684.9 271.2 684.9 275.0 686.2 276.6C687.6 278.2 689.6 280.0 691.6 282.0C693.6 284.0 696.5 289.8 698.3 288.7C700.1 287.6 700.5 276.6 702.3 275.3C704.1 274.0 707.1 279.3 709.1 280.6C711.1 281.9 712.7 279.0 714.5 283.3C716.3 287.6 718.1 298.4 719.9 306.3C721.7 314.2 723.7 330.1 725.3 330.5C726.9 330.9 728.0 315.7 729.3 309.0C730.6 302.3 732.2 291.9 733.3 290.1C734.4 288.3 734.6 295.3 736.0 298.2C737.4 301.1 739.8 304.7 741.4 307.6C743.0 310.5 744.1 316.8 745.5 315.7C746.9 314.6 748.4 306.1 749.5 300.9C750.6 295.7 751.1 289.2 752.2 284.7C753.3 280.2 755.2 276.3 756.3 274.0C757.4 271.7 758.5 271.5 759.0 271.0" stroke="#9c50a8"/>
<path d="M198.0 357.6C200.9 359.3 209.1 364.6 215.4 367.7C221.7 370.8 231.0 374.8 235.8 376.5C240.7 378.2 242.1 378.9 244.5 377.9C246.9 376.8 247.6 373.6 250.0 370.2C252.4 366.8 256.0 366.0 259.0 357.6C262.0 349.2 265.1 320.8 267.8 319.8C270.5 318.8 272.8 344.9 275.0 351.7C277.2 358.5 278.1 362.9 280.8 360.5C283.5 358.1 287.9 347.7 291.0 337.2C294.1 326.7 298.1 304.7 299.6 297.7C301.1 290.7 299.1 300.4 300.0 295.5C300.9 290.6 303.8 272.1 304.9 268.3C306.0 264.5 306.3 271.3 306.7 272.7C307.1 274.1 306.6 272.3 307.5 276.5C308.4 280.6 310.6 292.1 312.0 297.7C313.4 303.3 314.9 308.0 315.6 310.2C316.3 312.4 315.4 309.7 316.0 311.2C316.6 312.7 318.1 314.2 319.2 319.1C320.3 324.0 321.8 338.0 322.8 340.6C323.8 343.2 324.2 336.5 325.0 334.4C325.8 332.3 326.2 331.8 327.3 328.0C328.4 324.2 330.4 316.8 331.7 311.4C332.9 305.9 333.9 299.5 334.8 295.2C335.7 290.9 336.4 289.1 337.0 285.6C337.6 282.2 338.1 277.6 338.7 274.3C339.3 271.0 339.7 269.0 340.5 266.0C341.3 263.0 342.7 258.7 343.3 256.5C343.9 254.3 343.5 252.2 344.3 252.8C345.1 253.4 346.9 259.5 348.0 260.2C349.1 261.0 350.1 257.1 351.2 257.4C352.3 257.6 353.3 261.6 354.4 261.7C355.5 261.8 356.5 258.1 357.6 258.0C358.7 258.0 359.7 261.5 360.8 261.4C361.9 261.3 362.9 257.7 364.0 257.6C365.1 257.5 366.1 261.1 367.2 261.0C368.3 260.9 369.3 257.2 370.4 257.2C371.5 257.2 372.5 260.8 373.6 260.8C374.7 260.8 375.7 257.2 376.8 257.2C377.9 257.2 378.9 260.8 380.0 260.8C381.1 260.8 382.1 257.1 383.2 257.2C384.3 257.3 385.3 261.1 386.4 261.5C387.5 261.9 388.5 259.0 389.6 259.5C390.7 260.0 391.7 264.2 392.8 264.7C393.9 265.2 394.9 262.1 396.0 262.4C397.1 262.8 398.1 266.5 399.2 266.7C400.3 267.0 401.3 263.6 402.4 263.8C403.5 264.1 404.5 267.9 405.6 268.1C406.7 268.4 407.7 265.0 408.8 265.2C409.9 265.5 410.9 269.3 412.0 269.5C413.1 269.8 414.1 266.4 415.2 266.6C416.3 266.9 417.3 270.6 418.4 270.9C419.5 271.3 420.6 268.6 421.6 268.6C422.6 268.6 423.3 270.7 424.2 270.8C425.1 270.9 425.9 268.9 426.8 269.0C427.7 269.0 428.5 271.1 429.4 271.2C430.3 271.2 431.1 269.3 432.0 269.3C432.9 269.4 433.7 271.5 434.6 271.5C435.5 271.6 436.3 269.6 437.2 269.7C438.1 269.8 438.9 271.8 439.8 271.9C440.7 271.9 441.5 270.0 442.4 270.1C443.3 270.1 444.1 272.2 445.0 272.2C445.9 272.3 446.7 270.4 447.6 270.4C448.5 270.5 449.3 272.6 450.2 272.6C451.1 272.7 451.9 270.7 452.8 270.8C453.7 270.9 454.5 272.9 455.4 273.0C456.3 273.0 457.1 271.1 458.0 271.2C458.9 271.2 459.7 273.3 460.6 273.3C461.5 273.3 462.3 271.3 463.2 271.4C464.1 271.4 464.9 273.4 465.8 273.4C466.7 273.4 467.5 271.4 468.4 271.4C469.3 271.5 470.1 273.5 471.0 273.5C471.9 273.5 472.7 271.5 473.6 271.5C474.5 271.5 475.3 273.6 476.2 273.6C477.1 273.6 477.9 271.6 478.8 271.6C479.7 271.6 480.5 273.6 481.4 273.7C482.3 273.7 483.1 271.7 484.0 271.7C484.9 271.7 485.7 273.7 486.6 273.7C487.5 273.8 488.3 271.8 489.2 271.8C490.1 271.8 490.9 273.8 491.8 273.8C492.7 273.8 493.5 271.9 494.4 271.9C495.3 271.9 496.1 273.9 497.0 273.9C497.9 273.9 498.7 272.0 499.6 272.0C500.5 271.9 501.3 273.6 502.2 273.7C503.1 273.8 503.9 272.3 504.8 272.3C505.7 272.4 506.5 273.8 507.4 273.8C508.3 273.8 509.1 272.4 510.0 272.4C510.9 272.4 511.7 273.9 512.6 273.9C513.5 273.9 514.3 272.5 515.2 272.5C516.1 272.5 516.9 274.0 517.8 274.0C518.7 274.0 519.5 272.6 520.4 272.6C521.3 272.6 522.1 274.0 523.0 274.0C523.9 274.0 524.7 272.6 525.6 272.6C526.5 272.6 527.3 273.9 528.2 273.9C529.1 273.9 529.9 272.5 530.8 272.5C531.7 272.5 532.5 273.9 533.4 273.9C534.3 273.9 535.1 272.5 536.0 272.5C536.9 272.5 537.7 273.9 538.6 273.9C539.5 273.9 540.3 272.5 541.2 272.4C542.1 272.4 542.9 273.8 543.8 273.8C544.7 273.8 545.5 272.4 546.4 272.4C547.3 272.4 548.1 273.8 549.0 273.8C549.9 273.8 550.7 272.4 551.6 272.4C552.5 272.4 553.3 273.8 554.2 273.8C555.1 273.7 555.9 272.3 556.8 272.3C557.7 272.3 558.5 273.7 559.4 273.7C560.3 273.7 561.1 272.3 562.0 272.3C562.9 272.3 563.7 273.7 564.6 273.7C565.5 273.7 566.3 272.3 567.2 272.3C568.1 272.3 568.9 273.7 569.8 273.6C570.7 273.6 571.5 272.2 572.4 272.2C573.3 272.2 574.1 273.6 575.0 273.6C575.9 273.6 576.7 272.2 577.6 272.2C578.5 272.2 579.3 273.6 580.2 273.6C581.1 273.6 581.9 272.2 582.8 272.2C583.7 272.1 584.5 273.5 585.4 273.5C586.3 273.5 587.2 272.2 588.0 272.1C588.8 272.0 589.3 272.8 590.0 272.8C590.7 272.8 591.5 272.0 592.2 271.9C592.9 271.8 593.7 272.3 594.4 272.4C595.1 272.6 595.9 272.9 596.6 272.8C597.3 272.7 598.1 272.0 598.8 271.9C599.5 271.8 600.3 272.3 601.0 272.4C601.7 272.6 602.5 272.9 603.2 272.8C603.9 272.7 604.7 272.0 605.4 271.9C606.1 271.8 606.9 272.2 607.6 272.4C608.3 272.6 609.1 272.9 609.8 272.8C610.5 272.7 611.3 272.0 612.0 272.0C612.7 272.0 613.5 272.4 614.2 272.6C614.9 272.8 615.7 273.2 616.4 273.1C617.1 273.1 617.9 272.4 618.6 272.4C619.3 272.3 620.1 272.8 620.8 273.0C621.5 273.2 622.3 273.5 623.0 273.5C623.7 273.4 624.5 272.7 625.2 272.7C625.9 272.7 626.7 273.1 627.4 273.3C628.1 273.5 628.9 273.8 629.6 273.8C630.3 273.8 631.1 273.1 631.8 273.1C632.5 273.1 633.3 273.6 634.0 273.9C634.7 274.1 635.5 274.5 636.2 274.5C636.9 274.5 637.7 273.8 638.4 273.8C639.1 273.9 639.9 274.5 640.6 274.8C641.3 275.1 642.1 275.7 642.8 275.9C643.5 276.0 644.3 275.5 645.0 275.6C645.7 275.8 646.5 276.4 647.2 276.8C647.9 277.2 648.7 277.8 649.4 277.8C650.1 277.9 650.9 277.1 651.6 277.1C652.3 277.2 653.1 277.6 653.8 277.9C654.5 278.1 655.3 278.5 656.0 278.5C656.7 278.5 657.5 277.8 658.2 277.8C658.9 277.8 659.7 278.4 660.4 278.7C661.1 278.9 661.9 279.4 662.6 279.5C663.3 279.5 664.1 278.9 664.8 279.0C665.5 279.1 666.3 279.6 667.0 279.9C667.7 280.2 668.5 280.7 669.2 280.8C669.9 280.9 670.7 280.3 671.4 280.5C672.1 280.6 672.9 281.2 673.6 281.6C674.3 281.9 675.1 282.5 675.8 282.6C676.5 282.7 677.3 282.1 678.0 282.3C678.7 282.4 679.5 283.0 680.2 283.3C680.9 283.6 681.7 284.1 682.4 284.1C683.1 284.1 683.9 283.5 684.6 283.6C685.3 283.6 686.1 284.1 686.8 284.4C687.5 284.7 688.3 285.1 689.0 285.2C689.7 285.2 690.5 284.6 691.2 284.6C691.9 284.7 692.7 285.2 693.4 285.5C694.1 285.8 694.9 286.2 695.6 286.3C696.3 286.3 697.1 285.7 697.8 285.9C698.5 286.1 699.3 286.8 700.0 287.3C700.7 287.7 701.5 288.3 702.2 288.5C702.9 288.7 703.7 288.2 704.4 288.4C705.1 288.7 705.9 289.4 706.6 289.8C707.3 290.2 708.1 290.8 708.8 291.0C709.5 291.3 710.3 290.8 711.0 291.1C711.7 291.4 712.5 292.2 713.2 292.7C713.9 293.3 714.7 294.0 715.4 294.3C716.1 294.6 716.9 294.2 717.6 294.5C718.3 294.8 719.1 295.6 719.8 296.1C720.5 296.7 721.3 297.4 722.0 297.7C722.7 298.0 723.5 297.5 724.2 298.0C724.9 298.4 725.7 299.6 726.4 300.4C727.1 301.1 727.9 302.1 728.6 302.6C729.3 303.2 730.1 303.1 730.8 303.6C731.5 304.2 732.3 305.2 733.0 306.0C733.7 306.8 734.5 307.7 735.2 308.3C735.9 308.8 736.7 308.7 737.4 309.3C738.1 309.8 738.9 310.9 739.6 311.7C740.3 312.4 741.1 313.4 741.8 313.9C742.5 314.5 743.3 314.5 744.0 315.1C744.7 315.7 745.5 316.9 746.2 317.8C746.9 318.7 747.7 319.8 748.4 320.4C749.1 321.1 749.9 320.8 750.6 321.7C751.3 322.6 752.1 324.3 752.8 325.7C753.5 327.0 754.3 328.6 755.0 329.8C755.7 330.9 756.5 331.5 757.2 332.6C757.9 333.6 758.7 335.4 759.0 336.0" stroke="#f3b864" stroke-opacity="0.8"/>
</g>
<circle cx="347.8" cy="273.3" r="4" fill="none" stroke="#d01838" stroke-width="1.15"/>
<circle cx="745.5" cy="273.3" r="4" fill="none" stroke="#d01838" stroke-width="1.15"/>
</svg>
<div class="yl" style="top:90.9px">25</div>
<div class="yl" style="top:98.1px">24</div>
<div class="yl" style="top:105.2px">23</div>
<div class="yl" style="top:112.4px">22</div>
<div class="yl" style="top:119.5px">21</div>
<div class="yl" style="top:126.7px">20</div>
<div class="yl" style="top:133.8px">19</div>
<div class="yl" style="top:141.0px">18</div>
<div class="yl" style="top:148.1px">17</div>
<div class="yl" style="top:155.3px">16</div>
<div class="yl" style="top:162.5px">15</div>
<div class="yl" style="top:169.6px">14</div>
<div class="yl" style="top:176.8px">13</div>
<div class="yl" style="top:183.9px">12</div>
<div class="yl" style="top:191.1px">11</div>
<div class="yl" style="top:198.2px">10</div>
<div class="yl" style="top:205.4px">9</div>
<div class="yl" style="top:212.6px">8</div>
<div class="yl" style="top:219.7px">7</div>
<div class="yl" style="top:226.9px">6</div>
<div class="yl" style="top:234.0px">5</div>
<div class="yl" style="top:241.2px">4</div>
<div class="yl" style="top:248.3px">3</div>
<div class="yl" style="top:255.5px">2</div>
<div class="yl" style="top:262.6px">1</div>
<div class="yl" style="top:269.8px">0</div>
<div class="yl" style="top:276.8px">-1</div>
<div class="yl" style="top:283.8px">-2</div>
<div class="yl" style="top:290.9px">-3</div>
<div class="yl" style="top:297.9px">-4</div>
<div class="yl" style="top:304.9px">-5</div>
<div class="yl" style="top:311.9px">-6</div>
<div class="yl" style="top:319.0px">-7</div>
<div class="yl" style="top:326.0px">-8</div>
<div class="yl" style="top:333.0px">-9</div>
<div class="yl" style="top:340.0px">-10</div>
<div class="yl" style="top:347.1px">-11</div>
<div class="yl" style="top:354.1px">-12</div>
<div class="yl" style="top:361.1px">-13</div>
<div class="yl" style="top:368.1px">-14</div>
<div class="yl" style="top:375.2px">-15</div>
<div class="yl" style="top:382.2px">-16</div>
<div class="yl" style="top:389.2px">-17</div>
<div class="yl" style="top:396.2px">-18</div>
<div class="yl" style="top:403.3px">-19</div>
<div class="yl" style="top:410.3px">-20</div>
<div class="yl" style="top:417.3px">-21</div>
<div class="yl" style="top:424.3px">-22</div>
<div class="yl" style="top:431.4px">-23</div>
<div class="yl" style="top:438.4px">-24</div>
<div class="yl" style="top:445.4px">-25</div>
<div class="xl" style="left:176.7px">10</div>
<div class="xl" style="left:226.6px">20</div>
<div class="xl" style="left:276.5px">40</div>
<div class="xl" style="left:305.6px">60</div>
<div class="xl" style="left:326.3px">80</div>
<div class="xl" style="left:342.4px">100</div>
<div class="xl" style="left:392.3px">200</div>
<div class="xl" style="left:442.2px">400</div>
<div class="xl" style="left:471.3px">600</div>
<div class="xl" style="left:492.0px">800</div>
<div class="xl" style="left:508.1px">1K</div>
<div class="xl" style="left:558.0px">2K</div>
<div class="xl" style="left:607.9px">4K</div>
<div class="xl" style="left:637.0px">6K</div>
<div class="xl" style="left:657.7px">8K</div>
<div class="xl" style="left:673.8px">10K</div>
<div class="xl" style="left:723.7px">20K</div>
<div class="a" style="left:168.1px;top:272.6px;font-size:7.6px;color:#a8a8a8;transform:translate(0,-50%) rotate(-90deg);transform-origin:center;width:60px;margin-left:-26px;text-align:center">Magnitude (dB)</div>
<div class="a" style="left:456px;top:469.4px;font-size:7.3px;color:#a0a0a0">Frequency (Hz)</div>
<div class="a" style="left:170px;top:481px;width:600px;height:1px;background:#ececec"></div>

<!-- legend -->
<div class="a" style="left:201.7px;top:98.8px;width:125.7px;height:78px;background:rgba(255,255,255,0.73);border-radius:5px"></div>
<div class="a" style="left:208px;top:103.5px;width:11.6px;height:11.6px;border:1px solid #7a7a7a"></div>
<svg class="a" style="left:208px;top:103.5px" width="12.5" height="12.5"><path d="M1.7 6.2L5 8.9 10.1 3.4" stroke="#666" stroke-width="1" fill="none"/></svg>
<div class="a" style="left:224.5px;top:108.8px;width:18px;height:1px;background:#6458c8"></div>
<div class="a" style="left:246px;top:105.7px;font-size:8.35px;color:#555">High Frequency Limit</div>
<div class="a" style="left:208px;top:117.8px;width:11.6px;height:11.6px;border:1px solid #7a7a7a"></div>
<svg class="a" style="left:208px;top:117.8px" width="12.5" height="12.5"><path d="M1.7 6.2L5 8.9 10.1 3.4" stroke="#666" stroke-width="1" fill="none"/></svg>
<div class="a" style="left:224.5px;top:123.0px;width:18px;height:1px;background:#d88098"></div>
<div class="a" style="left:246px;top:119.9px;font-size:8.35px;color:#555">Low Frequency Limit</div>
<div class="a" style="left:208px;top:132.0px;width:11.6px;height:11.6px;border:1px solid #7a7a7a"></div>
<svg class="a" style="left:208px;top:132.0px" width="12.5" height="12.5"><path d="M1.7 6.2L5 8.9 10.1 3.4" stroke="#666" stroke-width="1" fill="none"/></svg>
<div class="a" style="left:224.5px;top:137.3px;width:18px;height:1px;background:#5a9c5a"></div>
<div class="a" style="left:246px;top:134.2px;font-size:8.35px;color:#555">Before</div>
<div class="a" style="left:208px;top:146.2px;width:11.6px;height:11.6px;border:1px solid #7a7a7a"></div>
<svg class="a" style="left:208px;top:146.2px" width="12.5" height="12.5"><path d="M1.7 6.2L5 8.9 10.1 3.4" stroke="#666" stroke-width="1" fill="none"/></svg>
<div class="a" style="left:224.5px;top:151.6px;width:18px;height:1px;background:#c070d0"></div>
<div class="a" style="left:246px;top:148.5px;font-size:8.35px;color:#555">Filter</div>
<div class="a" style="left:208px;top:160.5px;width:11.6px;height:11.6px;border:1px solid #7a7a7a"></div>
<svg class="a" style="left:208px;top:160.5px" width="12.5" height="12.5"><path d="M1.7 6.2L5 8.9 10.1 3.4" stroke="#666" stroke-width="1" fill="none"/></svg>
<div class="a" style="left:224.5px;top:165.8px;width:18px;height:1px;background:#f0b868"></div>
<div class="a" style="left:246px;top:162.7px;font-size:8.35px;color:#555">After</div>

<div class="a" style="left:0;top:19px;width:770px;height:1px;background:rgba(0,0,0,0.28)"></div>
</body></html>
